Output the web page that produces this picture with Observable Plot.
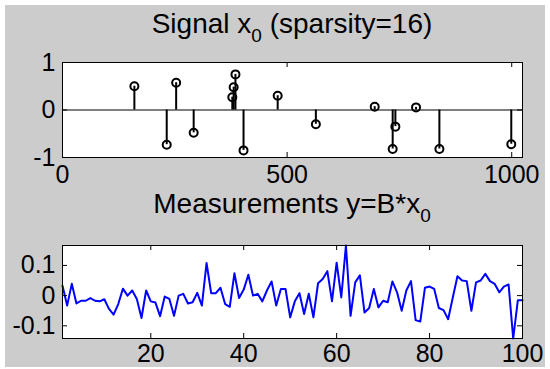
<!DOCTYPE html>
<html><head><meta charset="utf-8">
<script src="https://cdn.jsdelivr.net/npm/d3@7"></script>
<script src="https://cdn.jsdelivr.net/npm/@observablehq/plot@0.6"></script>
<style>
body{margin:0;background:#fff;width:550px;height:369px;overflow:hidden;position:relative;font-family:"Liberation Sans",Arial,Helvetica,sans-serif}
#bg{position:absolute;left:5px;top:5px;width:540px;height:362px;background:#cccccc}
.title{position:absolute;left:62px;width:460px;text-align:center;font-size:28px;line-height:28px;color:#000;white-space:nowrap}
.title sub{font-size:19px;position:relative;top:9px;vertical-align:baseline}
#p1{position:absolute;left:0;top:45px}
#p2{position:absolute;left:0;top:228px}
</style></head><body>
<div id="bg"></div>
<div class="title" style="top:10px">Signal x<sub>0</sub> (sparsity=16)</div>
<div class="title" style="top:190px">Measurements y=B*x<sub>0</sub></div>
<div id="p1"></div><div id="p2"></div>
<script>
const signalIndex = [160, 232, 253, 292, 378, 381, 385, 403, 479, 564, 695, 735, 741, 787, 839, 999];
const signalValue = [0.50, -0.73, 0.575, -0.48, 0.27, 0.48, 0.75, -0.85, 0.30, -0.30, 0.07, -0.82, -0.35, 0.055, -0.82, -0.72];
const signalXTicks = [0, 500, 1000];
const signalYTicks = [-1, 0, 1];
const signalXDomain = [0, 1024];

const measurementValues = [
  0.033, -0.033, 0.039, -0.026, -0.017, -0.017, -0.008, -0.017, -0.019, -0.012,
  -0.044, -0.063, -0.028, 0.023, 0.000, 0.017, -0.011, -0.074, 0.017, -0.019,
  -0.023, -0.068, -0.003, -0.011, -0.067, 0.000, 0.006, -0.026, -0.022, 0.009,
  -0.033, 0.108, 0.008, 0.008, 0.026, -0.028, -0.037, 0.074, -0.008, 0.020,
  0.069, 0.000, 0.006, -0.019, 0.017, 0.047, -0.033, 0.022, 0.022, -0.072,
  -0.019, 0.008, -0.061, 0.006, -0.072, 0.041, 0.055, 0.081, -0.019, 0.109,
  -0.006, 0.166, -0.067, 0.044, 0.067, -0.056, -0.041, 0.022, -0.039, -0.017,
  -0.022, 0.047, 0.011, -0.050, 0.017, 0.048, -0.081, -0.086, 0.026, 0.030,
  0.022, -0.041, -0.048, -0.078, -0.006, 0.064, 0.050, 0.048, -0.050, 0.044,
  0.050, 0.072, 0.048, 0.039, 0.011, 0.030, 0.037, -0.142, -0.015, -0.015
];
const measurementXTicks = [20, 40, 60, 80, 100];
const measurementYTicks = [-0.1, 0, 0.1];

const FONT = '"Liberation Sans", Arial, Helvetica, sans-serif';
const W = 460;

function innerTicks(xt, yt, w, h, len) {
  return [
    Plot.ruleX(xt, {x: d => d, insetTop: h - len, stroke: "#000"}),
    Plot.ruleX(xt, {x: d => d, insetBottom: h - len, stroke: "#000"}),
    Plot.ruleY(yt, {y: d => d, insetRight: w - len, stroke: "#000"}),
    Plot.ruleY(yt, {y: d => d, insetLeft: w - len, stroke: "#000"})
  ];
}
const fmt = d => String(d);

const signal = signalIndex.map((x, i) => ({x, y: signalValue[i]}));
const H1 = 95;
const p1 = Plot.plot({
  width: 550, height: 150, marginLeft: 62, marginRight: 28, marginTop: 17, marginBottom: 38,
  style: {background: "transparent", fontFamily: FONT, color: "#000", overflow: "visible"},
  x: {domain: signalXDomain}, y: {domain: [-1, 1]},
  marks: [
    Plot.frame({fill: "#fff"}),
    Plot.ruleY([0], {stroke: "#000", strokeWidth: 1.2}),
    Plot.ruleX(signal, {x: "x", y1: 0, y2: "y", stroke: "#000", strokeWidth: 2}),
    Plot.dot(signal, {x: "x", y: "y", r: 4, stroke: "#000", fill: "none", strokeWidth: 2}),
    ...innerTicks(signalXTicks, signalYTicks, W, H1, 5),
    Plot.frame({stroke: "#000"}),
    Plot.axisX(signalXTicks, {anchor: "bottom", tickSize: 0, tickPadding: 8, fontSize: 25, tickFormat: fmt, label: null}),
    Plot.axisY(signalYTicks, {anchor: "left", tickSize: 0, tickPadding: 7, fontSize: 25, tickFormat: fmt, label: null})
  ]
});
document.getElementById("p1").append(p1);

const meas = measurementValues.map((v, i) => ({i: i + 1, v}));
const H2 = 93;
const p2 = Plot.plot({
  width: 550, height: 141, marginLeft: 62, marginRight: 28, marginTop: 17, marginBottom: 31,
  style: {background: "transparent", fontFamily: FONT, color: "#000", overflow: "visible"},
  x: {domain: [1, measurementValues.length]}, y: {domain: d3.extent(measurementValues)},
  marks: [
    Plot.frame({fill: "#fff"}),
    Plot.line(meas, {x: "i", y: "v", stroke: "#0000ff", strokeWidth: 2}),
    ...innerTicks(measurementXTicks, measurementYTicks, W, H2, 5),
    Plot.frame({stroke: "#000"}),
    Plot.axisX(measurementXTicks, {anchor: "bottom", tickSize: 0, tickPadding: 6, fontSize: 25, tickFormat: fmt, label: null}),
    Plot.axisY(measurementYTicks, {anchor: "left", tickSize: 0, tickPadding: 7, fontSize: 25, tickFormat: fmt, label: null})
  ]
});
document.getElementById("p2").append(p2);
</script>
</body></html>
